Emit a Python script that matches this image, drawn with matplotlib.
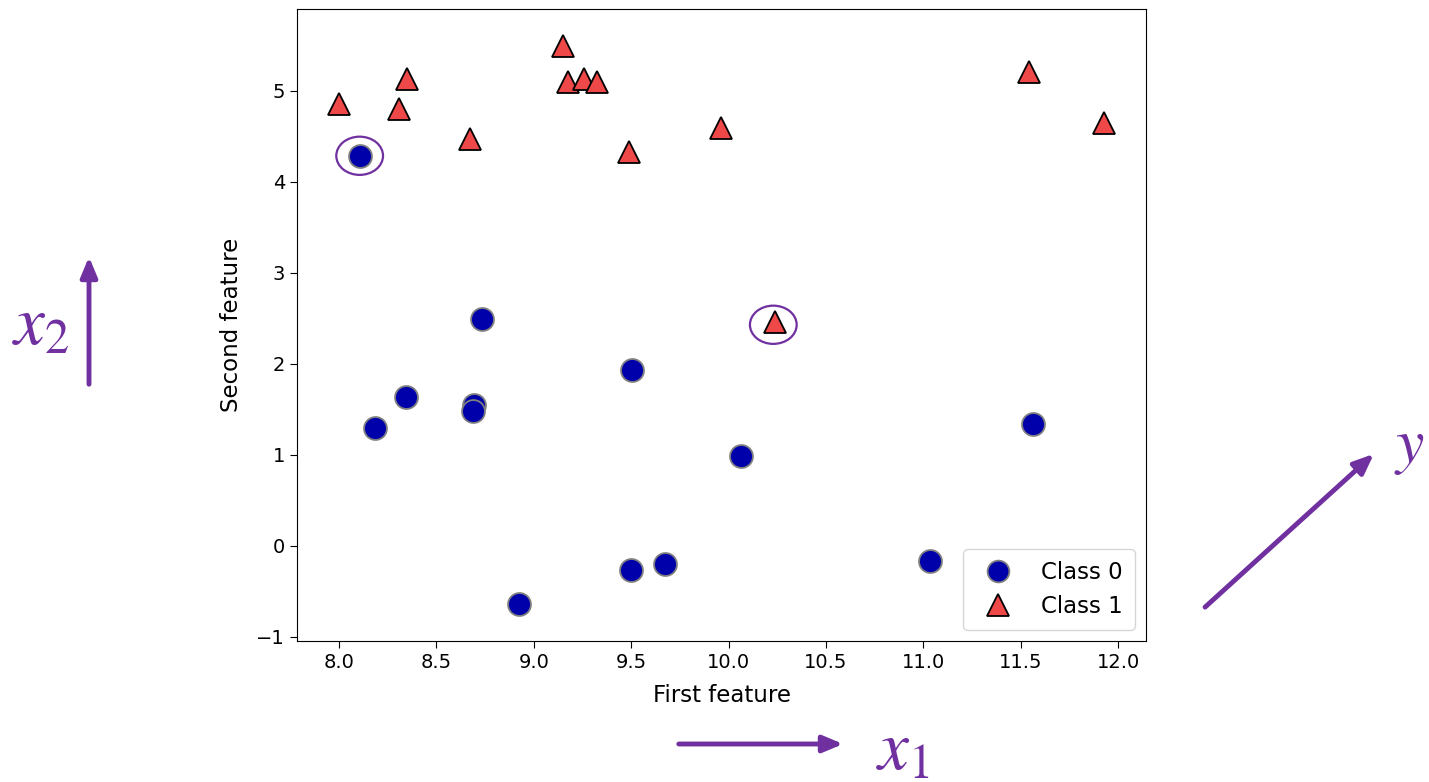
import numpy as np
import matplotlib.pyplot as plt
from matplotlib.patches import Ellipse

plt.rcParams['mathtext.fontset'] = 'stix'

# forge dataset (First feature, Second feature, class)
x1 = [9.963, 11.033, 11.542, 8.693, 8.106, 8.310, 11.930, 9.673, 8.348, 8.675,
      9.177, 10.240, 8.689, 8.922, 9.491, 9.257, 7.998, 8.184, 8.734, 9.323,
      10.064, 9.500, 8.345, 9.502, 9.151, 11.564]
x2 = [4.597, -0.168, 5.211, 1.543, 4.287, 4.806, 4.649, -0.203, 5.134, 4.476,
      5.093, 2.455, 1.487, -0.640, 4.332, 5.133, 4.853, 1.296, 2.492, 5.098,
      0.991, -0.264, 1.638, 1.938, 5.498, 1.339]
y = [1, 0, 1, 0, 0, 1, 1, 0, 1, 1, 1, 1, 0, 0, 1, 1, 1, 0, 0, 1, 0, 0, 0, 0, 1, 0]

class_labels = ["Class 0", "Class 1"]
# points circled in the figure
circled = [(8.106, 4.287), (10.23, 2.43)]

x1 = np.array(x1)
x2 = np.array(x2)
y = np.array(y)

purple = "#7030a0"

fig = plt.figure(figsize=(14.29, 7.82), dpi=100)
ax = fig.add_axes([0.2078, 0.1803, 0.5942, 0.8082])

styles = [dict(marker="o", color="#0000aa", mec="grey"),
          dict(marker="^", color="#ef4848", mec="black")]
for k in [0, 1]:
    m = y == k
    ax.plot(x1[m], x2[m], linestyle="none", markersize=16.5, markeredgewidth=1.3,
            label=class_labels[k], **styles[k])

for cx, cy in circled:
    ax.add_patch(Ellipse((cx, cy), 0.24, 0.42, fill=False, edgecolor=purple, lw=1.6))

ax.set_xlim(7.784, 12.144)
ax.set_ylim(-1.045, 5.9)
ax.set_xlabel("First feature", fontsize=16.5, labelpad=9)
ax.set_ylabel("Second feature", fontsize=16.5, labelpad=10)
ax.tick_params(labelsize=14, length=5)
ax.legend(loc="lower right", fontsize=16.5, markerscale=0.95, borderpad=0.5,
          handletextpad=0.9)

# axis annotations outside the plot
arrow = dict(arrowstyle="-|>,head_length=1.2,head_width=0.5", color=purple, lw=3.5)
ax.annotate("", xy=(89, 528), xytext=(89, 395), xycoords="figure pixels",
            textcoords="figure pixels", arrowprops=arrow, annotation_clip=False)
ax.annotate("", xy=(846, 38), xytext=(676, 38), xycoords="figure pixels",
            textcoords="figure pixels", arrowprops=arrow, annotation_clip=False)
ax.annotate("", xy=(1376, 330), xytext=(1203, 173), xycoords="figure pixels",
            textcoords="figure pixels", arrowprops=arrow, annotation_clip=False)

fig.text(12, 437, "$x_2$", transform=None, fontsize=50, color=purple)
fig.text(876, 12, "$x_1$", transform=None, fontsize=50, color=purple)
fig.text(1394, 320, "$y$", transform=None, fontsize=46, color=purple)

fig.savefig("out.png", dpi=100)
